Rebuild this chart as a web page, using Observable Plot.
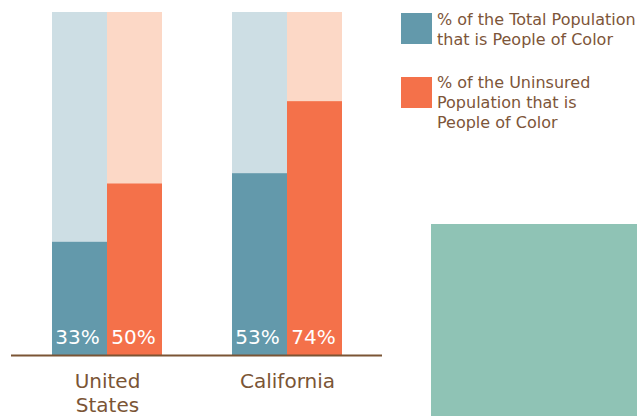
<!DOCTYPE html>
<html>
<head>
<meta charset="utf-8">
<script src="https://cdn.jsdelivr.net/npm/d3@7"></script>
<script src="https://cdn.jsdelivr.net/npm/@observablehq/plot@0.6"></script>
<style>
  body { margin: 0; background: #fff; }
  #wrap { position: relative; width: 637px; height: 416px; overflow: hidden; font-family: "DejaVu Sans", sans-serif; }
  #chart { position: absolute; left: 0; top: 0; }
  .sw { position: absolute; width: 31px; height: 31px; }
  .lt { position: absolute; left: 437px; font-size: 16px; line-height: 20px; color: #7D5539; white-space: nowrap; }
  #deco { position: absolute; left: 431px; top: 224px; width: 206px; height: 192px; background: #8FC3B5; }
</style>
</head>
<body>
<div id="wrap">
  <div id="chart"></div>
  <div class="sw" id="sw1" style="left:401px; top:13px;"></div>
  <div class="lt" id="lt1" style="top:10px;"></div>
  <div class="sw" id="sw2" style="left:401px; top:77px;"></div>
  <div class="lt" id="lt2" style="top:73px;"></div>
  <div id="deco"></div>
</div>
<script>
const regions = ["United States", "California"];
const regionLabels = ["United\nStates", "California"];
const totalPOC = [33, 53];
const uninsuredPOC = [50, 74];
const seriesNames = ["% of the Total Population\nthat is People of Color", "% of the Uninsured\nPopulation that is\nPeople of Color"];
const fullValue = 100;

const teal = "#6399AB", tealLight = "#CDDEE4";
const orange = "#F4714A", orangeLight = "#FCD8C6";
const brown = "#7B5535";

const rows = regions.map((r, i) => ({region: r, total: totalPOC[i], unins: uninsuredPOC[i], full: fullValue}));
const half = 55;

const chart = Plot.plot({
  width: 400,
  height: 416,
  marginLeft: 11,
  marginRight: 18,
  marginTop: 12,
  marginBottom: 61,
  style: {fontFamily: "'DejaVu Sans', sans-serif", background: "transparent"},
  x: {domain: regions, paddingInner: 0.3889, paddingOuter: 0.225, label: null},
  y: {domain: [0, 100], axis: null},
  marks: [
    Plot.barY(rows, {x: "region", y: "full", fill: tealLight, insetRight: half}),
    Plot.barY(rows, {x: "region", y: "full", fill: orangeLight, insetLeft: half}),
    Plot.barY(rows, {x: "region", y: "total", fill: teal, insetRight: half}),
    Plot.barY(rows, {x: "region", y: "unins", fill: orange, insetLeft: half}),
    Plot.text(rows, {x: "region", y: 0, text: d => d.total + "%", dx: -30, dy: -18, fill: "white", fontSize: 20}),
    Plot.text(rows, {x: "region", y: 0, text: d => d.unins + "%", dx: 26, dy: -18, fill: "white", fontSize: 20}),
    Plot.ruleY([0], {stroke: brown, strokeWidth: 2}),
    Plot.axisX({tickSize: 0, tickPadding: 15, fontSize: 20, lineHeight: 1.2, fill: brown, label: null,
      tickFormat: d => regionLabels[regions.indexOf(d)]})
  ]
});
document.getElementById("chart").appendChild(chart);

document.getElementById("sw1").style.background = teal;
document.getElementById("sw2").style.background = orange;
document.getElementById("lt1").innerHTML = seriesNames[0].replace(/\n/g, "<br>");
document.getElementById("lt2").innerHTML = seriesNames[1].replace(/\n/g, "<br>");
</script>
</body>
</html>
